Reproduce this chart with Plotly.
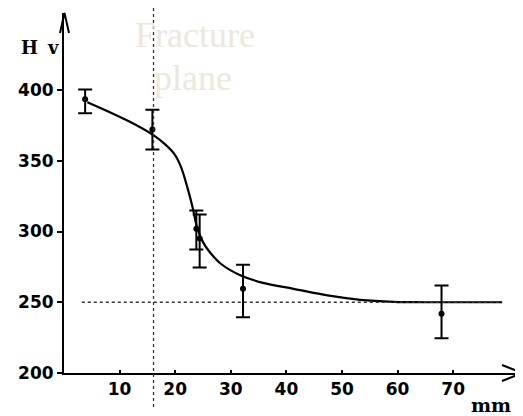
import plotly.graph_objects as go

# ---- data ----
dist_mm = [3.8, 15.9, 23.8, 24.4, 32.2, 67.9]
hv_mean = [393.5, 372.0, 302.0, 295.0, 259.5, 241.8]
hv_top = [400.3, 386.0, 314.8, 312.0, 276.5, 261.8]
hv_bottom = [383.6, 358.0, 287.3, 274.5, 239.4, 224.6]

curve_x = [4.2, 11.4, 16.2, 18.0, 19.8, 21.0, 22.2, 23.1, 24.0, 25.0, 26.2, 28.2, 31.8, 36.0, 41.3, 47.4, 53.3, 59.3, 65.0, 78.8]
curve_y = [391.4, 378.4, 367.8, 362.3, 355.0, 346.0, 331.0, 317.5, 302.0, 292.5, 285.5, 277.2, 268.9, 263.5, 259.5, 254.8, 251.7, 250.3, 250.0, 250.0]

base_hv = 250
base_x = [3.2, 78.8]
fracture_x = 16.1

x_ticks = [10, 20, 30, 40, 50, 60, 70]
y_ticks = [200, 250, 300, 350, 400]

# ---- layout geometry (page body has an 8px margin) ----
OFF = 8
W, H = 523 - OFF, 416 - OFF
L, R, T, B = 64 - OFF, 521 - OFF, 13 - OFF, 373 - OFF
xr = [0, (R - L) / 5.56]
yr = [200, 200 + (B - T) / 1.415]

def px(x):
    return (x - OFF - L) / (R - L)

def py(y):
    return (B - (y - OFF)) / (B - T)

err_plus = [t - m for t, m in zip(hv_top, hv_mean)]
err_minus = [m - b for m, b in zip(hv_mean, hv_bottom)]

fig = go.Figure()
fig.add_trace(go.Scatter(
    x=curve_x, y=curve_y, mode="lines",
    line=dict(color="black", width=2.2, shape="spline", smoothing=1.0),
    hoverinfo="skip", showlegend=False))
fig.add_trace(go.Scatter(
    x=dist_mm, y=hv_mean, mode="markers",
    marker=dict(color="black", size=6, symbol="circle"),
    error_y=dict(type="data", symmetric=False, array=err_plus, arrayminus=err_minus,
                 color="black", thickness=2, width=7),
    showlegend=False))

shapes = [
    dict(type="line", xref="x", yref="y", x0=base_x[0], x1=base_x[1], y0=base_hv, y1=base_hv,
         line=dict(color="#333", width=1.3, dash="dot")),
    dict(type="line", xref="x", yref="paper", x0=fracture_x, x1=fracture_x, y0=py(407), y1=py(7),
         line=dict(color="#333", width=1.3, dash="dot")),
    # axis arrowheads
    dict(type="path", xref="paper", yref="paper",
         path=f"M {px(60)} {py(33)} L {px(64.5)} {py(13)} L {px(69)} {py(33)}",
         line=dict(color="black", width=2)),
    dict(type="path", xref="paper", yref="paper",
         path=f"M {px(502)} {py(365)} L {px(522)} {py(373)} L {px(502)} {py(381)}",
         line=dict(color="black", width=2)),
]

txt_col = "#ECE8DA"
annotations = [
    dict(text="Fracture", xref="paper", yref="paper", x=px(195), y=py(35), showarrow=False,
         xanchor="center", yanchor="middle", font=dict(family="Liberation Serif", size=36, color=txt_col)),
    dict(text="plane", xref="paper", yref="paper", x=px(193), y=py(78), showarrow=False,
         xanchor="center", yanchor="middle", font=dict(family="Liberation Serif", size=36, color=txt_col)),
    dict(text="H", xref="paper", yref="paper", x=px(29), y=py(48), showarrow=False,
         xanchor="center", yanchor="middle", font=dict(family="DejaVu Serif", size=18, color="black", weight="bold")),
    dict(text="v", xref="paper", yref="paper", x=px(52.5), y=py(48), showarrow=False,
         xanchor="center", yanchor="middle", font=dict(family="DejaVu Serif", size=18, color="black", weight="bold")),
    dict(text="mm", xref="paper", yref="paper", x=px(491), y=py(405), showarrow=False,
         xanchor="center", yanchor="middle", font=dict(family="DejaVu Serif", size=19, color="black", weight="bold")),
]

fig.update_layout(
    width=W, height=H,
    margin=dict(l=L, r=W - R, t=T, b=H - B),
    paper_bgcolor="white", plot_bgcolor="white",
    shapes=shapes, annotations=annotations,
    xaxis=dict(range=xr, tickvals=x_ticks, ticktext=[str(v) for v in x_ticks],
               showgrid=False, zeroline=False, showline=True, linecolor="black", linewidth=2,
               ticks="inside", ticklen=3, tickwidth=1.5, tickcolor="black",
               tickfont=dict(family="DejaVu Sans", size=17, color="black", weight="bold")),
    yaxis=dict(range=yr, tickvals=y_ticks, ticktext=[str(v) for v in y_ticks],
               showgrid=False, zeroline=False, showline=True, linecolor="black", linewidth=2,
               ticks="outside", ticklen=5, tickwidth=1.5, tickcolor="black",
               tickfont=dict(family="DejaVu Sans", size=17, color="black", weight="bold")),
)

fig.write_html("out.html")
